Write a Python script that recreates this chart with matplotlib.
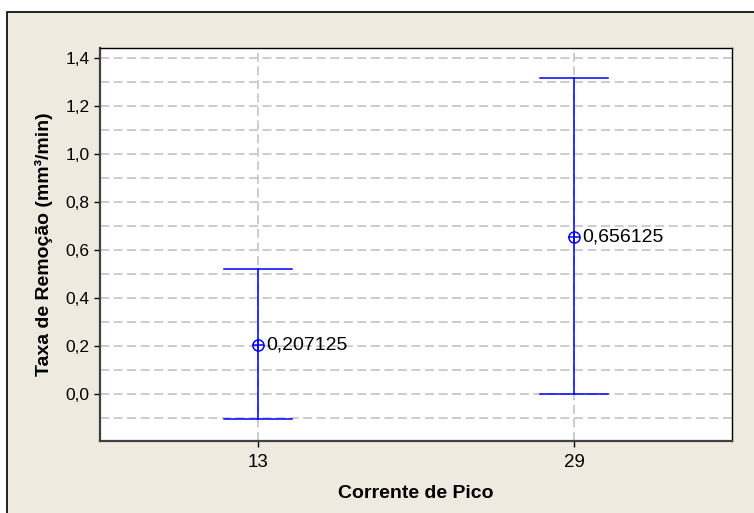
import matplotlib
matplotlib.use("Agg")
import matplotlib.pyplot as plt
from matplotlib.patches import Rectangle
from matplotlib.ticker import MultipleLocator

categorias = ["13", "29"]
medias = [0.207125, 0.656125]
limite_inf = [-0.105, 0.0]
limite_sup = [0.522, 1.32]
rotulos = ["0,207125", "0,656125"]

plt.rcParams["font.family"] = ["Liberation Sans", "DejaVu Sans"]

fig = plt.figure(figsize=(7.54, 5.13), dpi=100)
fig.patch.set_facecolor("white")
# moldura bege estilo Minitab
fig.patches.append(Rectangle((7 / 754, -0.01), 1.0, 1 - 12 / 513 + 0.01,
                             transform=fig.transFigure, facecolor="#EEEAE0",
                             edgecolor="black", linewidth=1.2, zorder=-10))

ax = fig.add_axes([100 / 754, 1 - 441 / 513, 632 / 754, 393 / 513])
ax.set_facecolor("white")

x = list(range(1, len(categorias) + 1))
for xi, m, lo, hi, txt in zip(x, medias, limite_inf, limite_sup, rotulos):
    ax.plot([xi, xi], [lo, hi], color="blue", lw=1.1, zorder=3)
    ax.plot([xi - 0.107, xi + 0.107], [lo, lo], color="blue", lw=1.1, zorder=3)
    ax.plot([xi - 0.107, xi + 0.107], [hi, hi], color="blue", lw=1.1, zorder=3)
    ax.plot(xi, m, marker="o", ms=8, mfc="none", mec="blue", mew=1.1, zorder=4)
    ax.plot(xi, m, marker="+", ms=8, mec="blue", mew=1.1, zorder=4)
    ax.annotate(txt, (xi, m), xytext=(6, 0), textcoords="offset points",
                va="center", ha="left", fontsize=14)

ax.set_xlim(0.5, 2.5)
ax.set_ylim(-0.195, 1.443)
ax.set_xticks(x)
ax.set_xticklabels(categorias)
ax.yaxis.set_minor_locator(MultipleLocator(0.1))
ax.set_yticks([0.0, 0.2, 0.4, 0.6, 0.8, 1.0, 1.2, 1.4])
ax.set_yticklabels(["0,0", "0,2", "0,4", "0,6", "0,8", "1,0", "1,2", "1,4"])
ax.tick_params(axis="both", which="major", length=4.5, width=1,
               direction="out", colors="black", pad=3)
ax.tick_params(axis="x", labelsize=13.5, pad=5)
ax.tick_params(axis="y", labelsize=12.5)
ax.tick_params(axis="y", which="minor", length=0)

ax.grid(True, which="both", axis="y", color="#C8C8C8", linestyle=(0, (5, 2.5)), lw=1.3)
ax.grid(True, which="major", axis="x", color="#C8C8C8", linestyle=(0, (5, 2.5)), lw=1.3)
ax.set_axisbelow(True)

for s in ax.spines.values():
    s.set_color("black")
    s.set_linewidth(1)
ax.spines["left"].set_color("#404040")
ax.spines["bottom"].set_color("#404040")
ax.spines["left"].set_linewidth(1.6)
ax.spines["bottom"].set_linewidth(1.6)

ax.set_xlabel("Corrente de Pico", fontsize=14, fontweight="bold", labelpad=10)
ax.set_ylabel("Taxa de Remoção (mm³/min)", fontsize=14, fontweight="bold", labelpad=9)

fig.savefig("out.png", dpi=100, facecolor=fig.get_facecolor())
